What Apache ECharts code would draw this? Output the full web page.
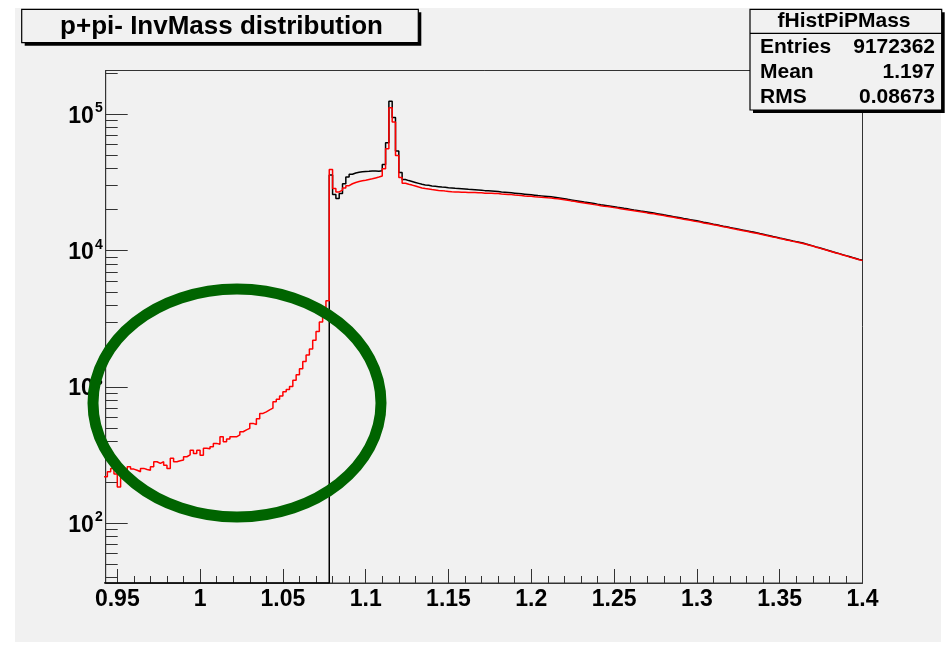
<!DOCTYPE html>
<html>
<head>
<meta charset="utf-8">
<script src="https://cdn.jsdelivr.net/npm/echarts@6/dist/echarts.min.js"></script>
<style>
  html, body { margin: 0; padding: 0; background: #ffffff; }
  #chart { width: 945px; height: 647px; }
</style>
</head>
<body>
<div id="chart"></div>
<script>
// p+pi- invariant mass histogram: fixed-width bins starting at binStart
const binStart = 0.942;
const binWidth = 0.002;

// Reconstructed pairs (red)
const redCounts = [
  220, 239, 253, 230, 185, 253, 245, 260, 250, 245,
  239, 253, 248, 245, 260, 283, 275, 283, 267, 253,
  300, 283, 288, 291, 308, 318, 344, 326, 344, 316,
  355, 352, 365, 386, 380, 431, 396, 415, 431, 431,
  445, 470, 485, 497, 541, 530, 585, 640, 658, 680,
  700, 779, 815, 860, 922, 960, 1010, 1120, 1230, 1360,
  1540, 1720, 1900, 2200, 2550, 3000, 3600, 4300,
  39400, 28600, 27000, 27800, 28900, 30000, 31000, 31700, 32200, 32600,
  32900, 33300, 33700, 34200, 34700, 35300, 40000, 56000, 112000, 88000,
  50000, 34500,
  31300, 30700, 30300, 29800, 29300, 28900, 28600, 28400, 28100, 27900,
  27700, 27600, 27400, 27250, 27100, 27000, 26950, 26850, 26850, 26750,
  26700, 26750, 26650, 26600, 26450, 26400, 26380, 26300, 26250, 26100,
  26000, 25870, 25800, 25620, 25500, 25420, 25250, 25130, 25050, 24900,
  24780, 24700, 24560, 24450, 24380, 24210, 24060, 23900, 23630, 23460,
  23210, 23050, 22800, 22620, 22380, 22190, 22030, 21790, 21620, 21410,
  21230, 21120, 20900, 20710, 20560, 20350, 20160, 20010, 19810, 19660,
  19460, 19290, 19150, 18950, 18780, 18650, 18470, 18280, 18120, 17910,
  17740, 17600, 17380, 17230, 17030, 16860, 16720, 16520, 16350, 16220,
  15990, 15860, 15700, 15500, 15370, 15160, 14990, 14860, 14660, 14520,
  14340, 14200, 14020, 13880, 13710, 13560, 13440, 13250, 13110, 12930,
  12790, 12610, 12480, 12300, 12170, 12000, 11870, 11710, 11590, 11430,
  11310, 11170, 10970, 10820, 10620, 10470, 10280, 10130, 9950, 9800,
  9620, 9490, 9310, 9180, 9010, 8890, 8730, 8600, 8460
];

// Reference distribution (black): empty below the p + pi- threshold
const blackCounts = [
  0, 0, 0, 0, 0, 0, 0, 0, 0, 0,
  0, 0, 0, 0, 0, 0, 0, 0, 0, 0,
  0, 0, 0, 0, 0, 0, 0, 0, 0, 0,
  0, 0, 0, 0, 0, 0, 0, 0, 0, 0,
  0, 0, 0, 0, 0, 0, 0, 0, 0, 0,
  0, 0, 0, 0, 0, 0, 0, 0, 0, 0,
  0, 0, 0, 0, 0, 0, 0, 0,
  36000, 25800, 24200, 26300, 31000, 34800, 36400, 37200, 37600, 37900,
  38200, 38300, 38500, 38400, 38300, 38600, 43000, 62000, 125000, 95000,
  54000, 37500,
  33300, 32700, 32200, 31700, 31200, 30700, 30400, 30200, 29900, 29700,
  29500, 29300, 29200, 29000, 28900, 28700, 28600, 28500, 28400, 28200,
  28100, 28000, 27900, 27800, 27600, 27500, 27400, 27300, 27200, 27000,
  26900, 26750, 26600, 26450, 26300, 26150, 26000, 25850, 25700, 25550,
  25400, 25260, 25120, 24980, 24840, 24700, 24480, 24260, 24040, 23820,
  23610, 23400, 23190, 22980, 22770, 22570, 22370, 22170, 21970, 21780,
  21600, 21410, 21220, 21030, 20840, 20660, 20470, 20290, 20110, 19930,
  19760, 19580, 19410, 19240, 19070, 18900, 18710, 18520, 18330, 18150,
  17970, 17790, 17610, 17430, 17250, 17080, 16910, 16740, 16570, 16400,
  16200, 16020, 15840, 15660, 15490, 15310, 15140, 14980, 14810, 14650,
  14480, 14320, 14160, 14000, 13850, 13700, 13530, 13360, 13200, 13030,
  12870, 12710, 12560, 12400, 12250, 12100, 11950, 11800, 11660, 11520,
  11400, 11210, 11030, 10850, 10670, 10500, 10330, 10160, 10000, 9830,
  9670, 9520, 9360, 9210, 9060, 8910, 8770, 8630, 8500
];

// Axis ranges and tick marks
const xMin = 0.943, xMax = 1.4;
const yMin = 36.5, yMax = 210000;
const xMajorTicks = [0.95, 1, 1.05, 1.1, 1.15, 1.2, 1.25, 1.3, 1.35, 1.4];
const yDecades = [100, 1000, 10000, 100000];

// Stats box contents
const statsTitle = 'fHistPiPMass';
const statsRows = [['Entries', '9172362'], ['Mean', '1.197'], ['RMS', '0.08673']];
const chartTitle = 'p+pi- InvMass distribution';

const FONT = '"Liberation Sans", Arial, Helvetica, sans-serif';

// minor ticks: every 0.01 on x, 2..9 per decade on y
const xMinorTicks = [];
for (let i = 95; i <= 140; i++) {
  if (i % 5 !== 0) xMinorTicks.push(i / 100);
}
const yMinorTicks = [];
[10, 100, 1000, 10000, 100000].forEach(d => {
  for (let m = 2; m <= 9; m++) {
    const v = m * d;
    if (v > yMin && v < yMax) yMinorTicks.push(v);
  }
});

// histogram -> step polyline (value of bin k holds from its low edge to the next)
function toSteps(counts) {
  const pts = counts.map((c, k) => [binStart + k * binWidth, c > 0 ? c : yMin]);
  const last = counts[counts.length - 1];
  pts.push([binStart + counts.length * binWidth, last > 0 ? last : yMin]);
  return pts;
}

const chart = echarts.init(document.getElementById('chart'), null, { renderer: 'canvas' });

const axisColor = '#333333';

const option = {
  animation: false,
  backgroundColor: '#ffffff',
  grid: {
    left: 105.7, right: 82.5, top: 70.5, bottom: 64,
    show: true, borderColor: axisColor, borderWidth: 1,
    backgroundColor: 'transparent',
    containLabel: false, outerBoundsMode: 'none'
  },
  xAxis: [
    {
      type: 'value', min: xMin, max: xMax, position: 'bottom',
      axisLine: { show: true, lineStyle: { color: axisColor, width: 1 } },
      splitLine: { show: false },
      axisTick: { show: true, inside: true, length: 14, customValues: xMajorTicks,
                  lineStyle: { color: axisColor, width: 1 } },
      axisLabel: {
        customValues: xMajorTicks, margin: 5,
        color: '#000', fontFamily: FONT, fontWeight: 'bold', fontSize: 23,
        formatter: v => String(+v.toFixed(2))
      }
    },
    {
      type: 'value', min: xMin, max: xMax, position: 'bottom',
      axisLine: { show: false }, splitLine: { show: false },
      axisLabel: { show: false },
      axisTick: { show: true, inside: true, length: 7, customValues: xMinorTicks,
                  lineStyle: { color: axisColor, width: 1 } }
    }
  ],
  yAxis: [
    {
      type: 'log', logBase: 10, min: yMin, max: yMax, position: 'left',
      axisLine: { show: true, lineStyle: { color: axisColor, width: 1 } },
      splitLine: { show: false },
      axisTick: { show: true, inside: true, length: 22, customValues: yDecades,
                  lineStyle: { color: axisColor, width: 1 } },
      axisLabel: {
        customValues: yDecades, margin: 3,
        formatter: v => '{b|10}{s|' + Math.round(Math.log10(v)) + '}',
        rich: {
          b: { fontFamily: FONT, fontWeight: 'bold', fontSize: 23, color: '#000', padding: [4, 0, 0, 0] },
          s: { fontFamily: FONT, fontWeight: 'bold', fontSize: 14, color: '#000', padding: [0, 0, 12, 1] }
        }
      }
    },
    {
      type: 'log', logBase: 10, min: yMin, max: yMax, position: 'left',
      axisLine: { show: false }, splitLine: { show: false },
      axisLabel: { show: false },
      axisTick: { show: true, inside: true, length: 12, customValues: yMinorTicks,
                  lineStyle: { color: axisColor, width: 1 } }
    }
  ],
  series: [
    {
      name: 'reference', type: 'line', step: 'end', data: toSteps(blackCounts),
      xAxisIndex: 0, yAxisIndex: 0, symbol: 'none', clip: true, z: 2,
      lineStyle: { color: '#000000', width: 1.5 }
    },
    {
      name: 'reconstructed', type: 'line', step: 'end', data: toSteps(redCounts),
      xAxisIndex: 0, yAxisIndex: 0, symbol: 'none', clip: true, z: 3,
      lineStyle: { color: '#ff0000', width: 1.5 }
    }
  ],
  graphic: [
    // canvas fill
    { type: 'rect', z: -100, silent: true,
      shape: { x: 15, y: 8, width: 926, height: 634 },
      style: { fill: '#f1f1f1' } },
    // highlighted low-mass region
    { type: 'ellipse', z: 100, silent: true,
      shape: { cx: 237, cy: 403, rx: 144, ry: 114 },
      style: { fill: 'transparent', stroke: '#006400', lineWidth: 11 } },
    // title box
    { type: 'rect', z: 110, shape: { x: 24.7, y: 12.3, width: 396.6, height: 33.4 },
      style: { fill: '#000' } },
    { type: 'rect', z: 111, shape: { x: 21.7, y: 9.3, width: 396.6, height: 33.4 },
      style: { fill: '#f1f1f1', stroke: '#000', lineWidth: 1.2 } },
    { type: 'text', z: 112, x: 221.5, y: 26.5,
      style: { text: chartTitle, fill: '#000', font: 'bold 26px ' + FONT,
               textAlign: 'center', textVerticalAlign: 'middle' } },
    // stats box
    { type: 'rect', z: 110, shape: { x: 753, y: 12.3, width: 191.7, height: 100.7 },
      style: { fill: '#000' } },
    { type: 'rect', z: 111, shape: { x: 750, y: 9.3, width: 191.7, height: 100.7 },
      style: { fill: '#f1f1f1', stroke: '#000', lineWidth: 1.2 } },
    { type: 'line', z: 112, shape: { x1: 750, y1: 33.3, x2: 941.7, y2: 33.3 },
      style: { stroke: '#000', lineWidth: 1.2 } },
    { type: 'text', z: 112, x: 844, y: 21.7,
      style: { text: statsTitle, fill: '#000', font: 'bold 21px ' + FONT,
               textAlign: 'center', textVerticalAlign: 'middle' } }
  ].concat(statsRows.flatMap((row, i) => [
    { type: 'text', z: 112, x: 760, y: 47.5 + i * 25,
      style: { text: row[0], fill: '#000', font: 'bold 21px ' + FONT,
               textAlign: 'left', textVerticalAlign: 'middle' } },
    { type: 'text', z: 112, x: 935, y: 47.5 + i * 25,
      style: { text: row[1], fill: '#000', font: 'bold 21px ' + FONT,
               textAlign: 'right', textVerticalAlign: 'middle' } }
  ]))
};

chart.setOption(option);
</script>
</body>
</html>
